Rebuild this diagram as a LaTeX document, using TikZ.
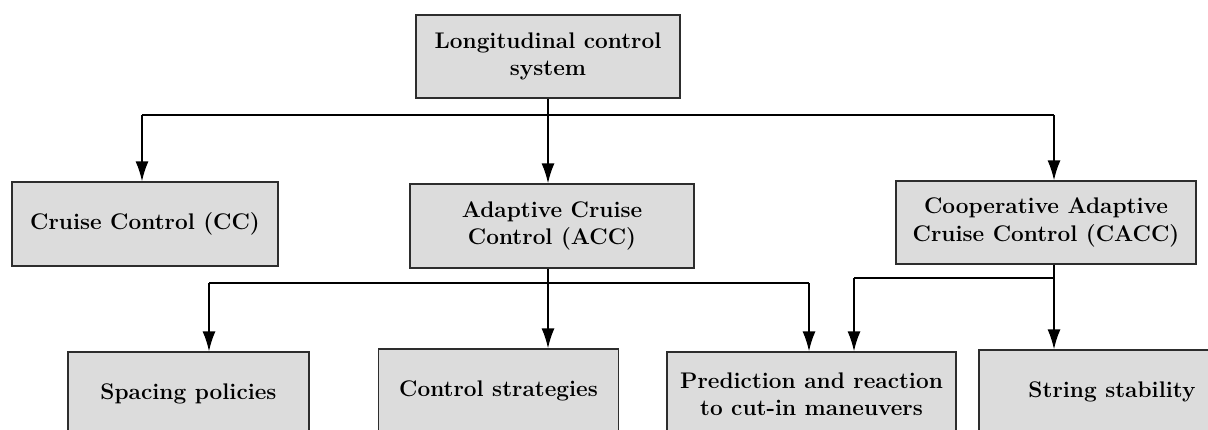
\documentclass[tikz,border=0pt]{standalone}
\usetikzlibrary{arrows.meta}
\definecolor{boxfill}{RGB}{220,220,220}
\definecolor{boxline}{RGB}{45,45,45}
\tikzset{
  block/.style={draw=boxline, line width=0.6pt, fill=boxfill, align=center,
    inner sep=0pt, font=\fontsize{11.3pt}{13.6pt}\selectfont\bfseries},
  link/.style={draw=black, line width=0.9pt},
  arr/.style={link, -{Latex[length=10pt,width=6.5pt]}},
}
\begin{document}
\begin{tikzpicture}[x=0.5pt,y=-0.5pt]
  \useasboundingbox (0,0) rectangle (1208,429);
  \clip (0,0) rectangle (1208,429);
  \fill[white] (0,0) rectangle (1208,429);

  % level 0
  \node[block, minimum width=132pt, minimum height=41.5pt] (lcs) at (548,56.5)
    {Longitudinal control\\system};

  % level 1
  \node[block, minimum width=133pt, minimum height=42pt] (cc) at (145,224)
    {Cruise Control (CC)};
  \node[block, minimum width=142pt, minimum height=42pt] (acc) at (552,226)
    {Adaptive Cruise\\Control (ACC)};
  \node[block, minimum width=150pt, minimum height=41.5pt] (cacc) at (1046,222.5)
    {Cooperative Adaptive\\Cruise Control (CACC)};

  % level 2
  \node[block, minimum width=120.5pt, minimum height=42pt] (sp) at (188.5,394)
    {Spacing policies};
  \node[block, minimum width=120pt, minimum height=42pt] (cs) at (498.5,391)
    {Control strategies};
  \node[block, minimum width=144.5pt, minimum height=42pt] (pr) at (811.5,394)
    {Prediction and reaction\\to cut-in maneuvers};
  \node[block, minimum width=133pt, minimum height=42pt] (ss) at (1112,392)
    {String stability};

  % branch points of the connectors
  \coordinate (t0) at (548,115);
  \coordinate (tL) at (142,115);
  \coordinate (tR) at (1054,115);
  \coordinate (a0) at (548,283);
  \coordinate (aL) at (209,283);
  \coordinate (aR) at (809,283);
  \coordinate (c0) at (1054,278);
  \coordinate (cL) at (854,278);

  % longitudinal control -> level 1
  \draw[link] (lcs.south -| t0) -- (t0);
  \draw[link] (tL) -- (tR);
  \draw[arr] (tL) -- (tL |- cc.north);
  \draw[arr] (t0) -- (t0 |- acc.north);
  \draw[arr] (tR) -- (tR |- cacc.north);

  % ACC -> level 2
  \draw[arr] (acc.south -| a0) -- (a0 |- cs.north);
  \draw[link] (aL) -- (aR);
  \draw[arr] (aL) -- (aL |- sp.north);
  \draw[arr] (aR) -- (aR |- pr.north);

  % CACC -> level 2
  \draw[arr] (cacc.south -| c0) -- (c0 |- ss.north);
  \draw[link] (cL) -- (c0);
  \draw[arr] (cL) -- (cL |- pr.north);
\end{tikzpicture}
\end{document}
